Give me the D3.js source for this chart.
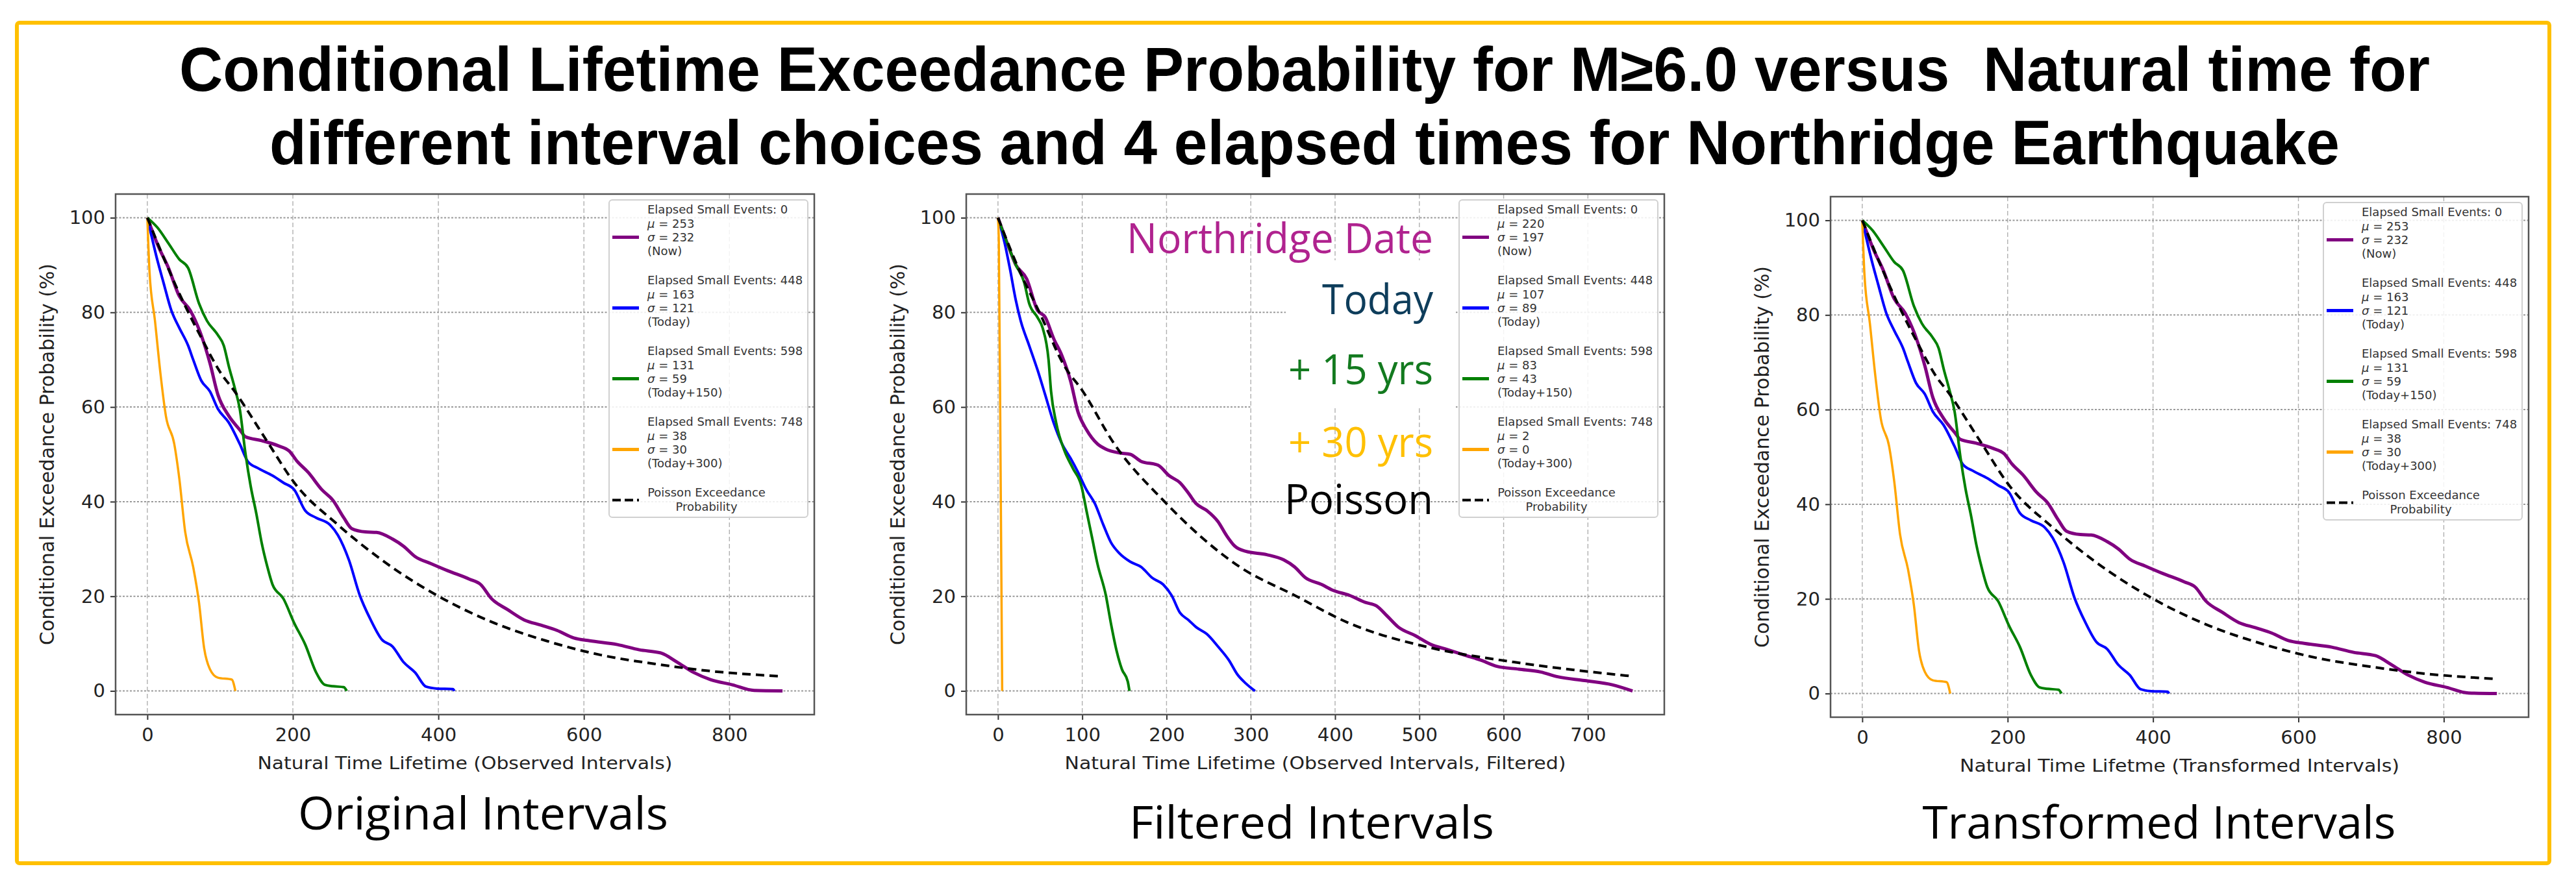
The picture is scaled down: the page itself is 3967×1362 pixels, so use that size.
<!DOCTYPE html>
<html>
<head>
<meta charset="utf-8">
<script src="https://cdn.jsdelivr.net/npm/d3@7"></script>
<style>
  body { margin: 0; background: #fff; }
  svg { display: block; }
</style>
</head>
<body>
<div id="chart"></div>
<script>
// values

var yTicks = [0, 20, 40, 60, 80, 100];
var xTicksWide = [0, 200, 400, 600, 800];
var xTicksFiltered = [0, 100, 200, 300, 400, 500, 600, 700];

var elapsed = [0, 448, 598, 748];
var tags = ["(Now)", "(Today)", "(Today+150)", "(Today+300)"];
var origMu = [253, 163, 131, 38];
var origSigma = [232, 121, 59, 30];
var filtMu = [220, 107, 83, 2];
var filtSigma = [197, 89, 43, 0];

// original intervals (the transformed panel shows the same curves)
var origNow = [[0,100],[15,94],[29,89.4],[44,83.4],[59,80.4],[74,75.2],[86,69.3],[97,62.6],[112,58.1],
  [127,55.2],[135,53.7],[157,52.9],[180,51.8],[195,50.7],[206,48.5],[221,46.2],[240,42.5],[255,40.3],
  [270,36.6],[281,34.3],[300,33.6],[315,33.5],[337,32.1],[352,30.6],[368,28.4],[390,26.9],[413,25.4],
  [443,23.6],[458,22.5],[473,19.5],[495,17.2],[518,15.0],[541,13.9],[563,12.8],[586,11.2],[608,10.6],
  [646,9.8],[676,8.7],[706,8.0],[728,6.1],[751,3.9],[774,2.4],[804,1.3],[834,0.1],[873,0]];
var origToday = [[0,100],[14,90.9],[22,86.4],[33,80.4],[44,76.7],[56,73],[63,70],[74,65.6],[86,63.3],
  [97,59.6],[112,56.7],[127,52.2],[138,48.5],[153,47],[172,45.5],[187,44],[202,42.5],[217,38.1],
  [232,36.6],[251,35.1],[262,32.9],[277,27.7],[292,20.2],[307,15.0],[322,10.9],[337,9.4],[352,6.1],
  [368,3.9],[383,0.9],[398,0.5],[420,0.4],[422,0]];
var orig150 = [[0,100],[14,97.9],[29,94.6],[44,91.2],[56,89.4],[71,81.9],[82,78.2],[97,75.2],[105,73.0],
  [112,68.6],[120,64.1],[127,59.6],[135,50],[142,43.3],[150,37.3],[157,31.4],[165,26.2],[172,22.5],
  [187,19.5],[202,14.3],[217,9.8],[232,3.9],[244,1.3],[255,1.0],[270,0.8],[274,0]];
var orig300 = [[0,100],[3,88.6],[10.5,78.2],[18,67.1],[25.5,58.1],[37,52.2],[44,44.8],[52,33.6],[63,26.2],
  [71,18.7],[78,9.1],[86,4.6],[97,2.8],[116,2.4],[121,0]];
var origPoisson = [[0,100],[25,90.6],[50,82],[75,74.4],[100,67.4],[120,63.3],[164,52.9],[202,44],
  [262,35.1],[322,27.7],[398,20.2],[473,14.6],[548,10.6],[623,7.6],[698,5.7],[774,4.2],[871,3.1]];

// filtered intervals
var filtNow = [[0,100],[11,94.6],[21,90.1],[34,87.1],[47,80.4],[56,79],[66,74.5],[76,70.8],[86,65.6],
  [95,58.9],[105,55.2],[118,52.2],[128,51.1],[144,50.3],[157,50],[170,48.5],[190,47.7],[203,45.5],
  [216,44],[226,41.8],[235,39.6],[248,38.1],[261,35.8],[271,32.9],[281,30.6],[294,29.5],[319,28.8],
  [339,27.7],[352,26.2],[365,23.9],[384,22.5],[397,21.3],[417,20.2],[436,18.7],[449,18.0],[462,15.8],
  [475,13.5],[495,11.7],[514,9.8],[534,8.7],[553,7.6],[573,6.5],[592,5.2],[618,4.6],[644,4.0],
  [664,3.0],[696,2.2],[729,1.3],[753,0]];
var filtToday = [[0,100],[8,94.6],[14,89.4],[21,82.7],[27,78.2],[37,73],[47,67.8],[56,62.6],[66,56.7],
  [76,52.2],[86,49.2],[95,46.2],[105,42.5],[115,39.6],[125,35.1],[134,31.4],[144,29.1],[157,27.3],
  [170,26.2],[183,23.9],[196,22.5],[206,20.2],[216,16.5],[226,15],[235,13.5],[248,12.0],[261,9.4],
  [274,6.5],[284,3.5],[294,1.6],[305,0]];
var filt150 = [[0,100],[11,94.6],[21,90.1],[31,86.4],[37,81.9],[47,78.9],[53,76.7],[60,70.0],[63,63.3],
  [69,56.7],[79,50.7],[89,47.0],[99,43.3],[105,38.1],[112,32.1],[118,26.9],[128,20.2],[134,14.3],
  [141,8.3],[147,4.6],[154,2.0],[156,0]];
var filt300 = [[0,100],[1,95],[3,50],[5,0]];
var filtPoisson = [[0,100],[25,89],[50,79.7],[79,68.6],[100,63.5],[138,52.2],[196,40.3],[287,26.2],
  [352,20.2],[417,14.3],[514,9.1],[612,6.1],[753,3.1]];

var annotations = ["Northridge Date", "Today", "+ 15 yrs", "+ 30 yrs", "Poisson"];

// ---- layout ----
var W = 3967, H = 1362;
var colors = ["#800080", "#0000ff", "#008000", "#ffa500"];
var widths = [5, 4, 4, 3.5];

var svg = d3.select("#chart")
    .append("svg")
    .attr("width", W)
    .attr("height", H);

svg.append("rect").attr("width", W).attr("height", H).attr("fill", "#fff");

// gold frame round the whole slide
svg.append("rect")
    .attr("x", 26).attr("y", 35)
    .attr("width", 3900).attr("height", 1295)
    .attr("rx", 4)
    .attr("fill", "none")
    .attr("stroke", "#FFC000")
    .attr("stroke-width", 6);

// title
var titleLines = [
    { t: "Conditional Lifetime Exceedance Probability for M\u22656.0 versus\u00a0 Natural time for", y: 140, len: 3466 },
    { t: "different interval choices and 4 elapsed times for Northridge Earthquake", y: 253, len: 3188 }
];
svg.selectAll(".title")
    .data(titleLines)
    .enter()
    .append("text")
    .attr("class", "title")
    .attr("x", 2009)
    .attr("y", function (d) { return d.y; })
    .attr("text-anchor", "middle")
    .attr("font-family", "'Liberation Sans', Arial, sans-serif")
    .attr("font-weight", 700)
    .attr("font-size", "96px")
    .attr("textLength", function (d) { return d.len; })
    .attr("lengthAdjust", "spacingAndGlyphs")
    .text(function (d) { return d.t; });

var panels = [
    {
        left: 178, right: 1254, top: 299, bottom: 1101,
        ticks: xTicksWide,
        series: [origNow, origToday, orig150, orig300],
        poisson: origPoisson, mu: origMu, sigma: origSigma,
        xlabel: "Natural Time Lifetime (Observed Intervals)", xlabelLen: 639,
        sub: "Original Intervals", subX: 744, subY: 1278, subLen: 570
    },
    {
        left: 1488, right: 2563, top: 299, bottom: 1101,
        ticks: xTicksFiltered,
        series: [filtNow, filtToday, filt150, filt300],
        poisson: filtPoisson, mu: filtMu, sigma: filtSigma,
        xlabel: "Natural Time Lifetime (Observed Intervals, Filtered)", xlabelLen: 772,
        sub: "Filtered Intervals", subX: 2020, subY: 1292, subLen: 562,
        notes: true
    },
    {
        left: 2819, right: 3894, top: 303, bottom: 1105,
        ticks: xTicksWide,
        series: [origNow, origToday, orig150, orig300],
        poisson: origPoisson, mu: origMu, sigma: origSigma,
        xlabel: "Natural Time Lifetme (Transformed Intervals)", xlabelLen: 677,
        sub: "Transformed Intervals", subX: 3325, subY: 1292, subLen: 729
    }
];

panels.forEach(drawPanel);

function drawPanel(p) {
    var g = svg.append("g");

    // matplotlib style 5% margins
    var xMax = d3.max(p.series.concat([p.poisson]), function (s) { return d3.max(s, function (d) { return d[0]; }); });
    var x = d3.scaleLinear()
        .domain([-0.05 * xMax, 1.05 * xMax])
        .range([p.left, p.right]);
    var y = d3.scaleLinear()
        .domain([-5, 105])
        .range([p.bottom, p.top]);

    // grid
    g.selectAll(".vgrid")
        .data(p.ticks)
        .enter()
        .append("line")
        .attr("x1", function (d) { return x(d); })
        .attr("x2", function (d) { return x(d); })
        .attr("y1", p.top).attr("y2", p.bottom)
        .attr("stroke", "#b0b0b0")
        .attr("stroke-width", 1.4)
        .attr("stroke-dasharray", "7,4");

    g.selectAll(".hgrid")
        .data(yTicks)
        .enter()
        .append("line")
        .attr("x1", p.left).attr("x2", p.right)
        .attr("y1", function (d) { return y(d); })
        .attr("y2", function (d) { return y(d); })
        .attr("stroke", "#999")
        .attr("stroke-width", 2)
        .attr("stroke-dasharray", "3,2.5");

    // axes
    var xAxisCall = d3.axisBottom(x)
        .tickValues(p.ticks)
        .tickSize(8)
        .tickPadding(12)
        .tickFormat(function (d) { return d; });
    var xAxisGroup = g.append("g")
        .attr("transform", "translate(0," + p.bottom + ")")
        .call(xAxisCall);

    var yAxisCall = d3.axisLeft(y)
        .tickValues(yTicks)
        .tickSize(8)
        .tickPadding(8)
        .tickFormat(function (d) { return d; });
    var yAxisGroup = g.append("g")
        .attr("transform", "translate(" + p.left + ",0)")
        .call(yAxisCall);

    [xAxisGroup, yAxisGroup].forEach(function (ax) {
        ax.select(".domain").remove();
        ax.selectAll(".tick line").attr("stroke", "#333").attr("stroke-width", 2);
        ax.selectAll(".tick text")
            .attr("fill", "#222")
            .attr("font-family", "'DejaVu Sans', sans-serif")
            .attr("font-size", "29px");
    });

    // white boxes behind the pasted annotations
    if (p.notes) {
        g.append("rect").attr("x", 1980).attr("y", 401).attr("width", 262).attr("height", 122).attr("fill", "#fff");
        g.append("rect").attr("x", 1927).attr("y", 521).attr("width", 315).attr("height", 108).attr("fill", "#fff");
    }

    // curves
    var line = d3.line()
        .x(function (d) { return x(d[0]); })
        .y(function (d) { return y(d[1]); })
        .curve(d3.curveMonotoneX);

    g.selectAll(".curve")
        .data(p.series)
        .enter()
        .append("path")
        .attr("d", line)
        .attr("fill", "none")
        .attr("stroke", function (d, i) { return colors[i]; })
        .attr("stroke-width", function (d, i) { return widths[i]; })
        .attr("stroke-linejoin", "round");

    g.append("path")
        .attr("d", line(p.poisson))
        .attr("fill", "none")
        .attr("stroke", "#000")
        .attr("stroke-width", 4)
        .attr("stroke-dasharray", "13,8");

    // frame
    g.append("rect")
        .attr("x", p.left).attr("y", p.top)
        .attr("width", p.right - p.left).attr("height", p.bottom - p.top)
        .attr("fill", "none")
        .attr("stroke", "#555")
        .attr("stroke-width", 2.5);

    // axis labels
    g.append("text")
        .attr("x", (p.left + p.right) / 2)
        .attr("y", p.bottom + 84)
        .attr("text-anchor", "middle")
        .attr("font-family", "'DejaVu Sans', sans-serif")
        .attr("font-size", "26px")
        .attr("fill", "#222")
        .attr("textLength", p.xlabelLen)
        .attr("lengthAdjust", "spacingAndGlyphs")
        .text(p.xlabel);

    g.append("text")
        .attr("transform", "translate(" + (p.left - 106) + "," + ((p.top + p.bottom) / 2) + ") rotate(-90)")
        .attr("dy", "0.36em")
        .attr("text-anchor", "middle")
        .attr("font-family", "'DejaVu Sans', sans-serif")
        .attr("font-size", "31px")
        .attr("fill", "#222")
        .attr("textLength", 588)
        .attr("lengthAdjust", "spacingAndGlyphs")
        .text("Conditional Exceedance Probability (%)");

    // legend
    var lg = g.append("g")
        .attr("transform", "translate(" + (p.right - 316) + "," + (p.top + 9) + ")");
    lg.append("rect")
        .attr("width", 306).attr("height", 489)
        .attr("rx", 5)
        .attr("fill", "#fff").attr("fill-opacity", 0.85)
        .attr("stroke", "#d0d0d0").attr("stroke-width", 2);

    elapsed.forEach(function (ev, k) {
        var y0 = 15 + 109 * k;
        var lines = [
            [{ t: "Elapsed Small Events: " + ev }],
            [{ t: "\u03bc", it: true }, { t: " = " + p.mu[k] }],
            [{ t: "\u03c3", it: true }, { t: " = " + p.sigma[k] }],
            [{ t: tags[k] }]
        ];
        lg.append("line")
            .attr("x1", 5).attr("x2", 46)
            .attr("y1", y0 + 42.6).attr("y2", y0 + 42.6)
            .attr("stroke", colors[k])
            .attr("stroke-width", 5);
        lines.forEach(function (segs, j) {
            var t = lg.append("text")
                .attr("x", 59)
                .attr("y", y0 + 21.3 * j)
                .attr("dy", "0.35em")
                .attr("font-family", "'DejaVu Sans', sans-serif")
                .attr("font-size", "18px")
                .attr("fill", "#333");
            segs.forEach(function (s) {
                t.append("tspan")
                    .attr("font-style", s.it ? "italic" : null)
                    .text(s.t);
            });
        });
    });

    var yp = 15 + 109 * 4;
    lg.append("line")
        .attr("x1", 5).attr("x2", 46)
        .attr("y1", yp + 11.5).attr("y2", yp + 11.5)
        .attr("stroke", "#000")
        .attr("stroke-width", 4)
        .attr("stroke-dasharray", "13,6");
    lg.selectAll(".ptext")
        .data(["Poisson Exceedance", "Probability"])
        .enter()
        .append("text")
        .attr("x", 150)
        .attr("y", function (d, j) { return yp + 21.3 * j; })
        .attr("dy", "0.35em")
        .attr("text-anchor", "middle")
        .attr("font-family", "'DejaVu Sans', sans-serif")
        .attr("font-size", "18px")
        .attr("fill", "#333")
        .text(function (d) { return d; });

    // annotations pasted on the filtered panel
    if (p.notes) {
        var noteY = [390, 484, 592, 704, 792];
        var noteLen = [472, 171, 223, 223, 229];
        var noteColor = ["#B0238F", "#0E3D5B", "#137A1F", "#FFC000", "#000"];
        g.selectAll(".note")
            .data(annotations)
            .enter()
            .append("text")
            .attr("x", 2207)
            .attr("y", function (d, i) { return noteY[i]; })
            .attr("text-anchor", "end")
            .attr("font-family", "'Open Sans', 'Noto Sans', sans-serif")
            .attr("font-size", "64px")
            .attr("fill", function (d, i) { return noteColor[i]; })
            .attr("textLength", function (d, i) { return noteLen[i]; })
            .attr("lengthAdjust", "spacingAndGlyphs")
            .text(function (d) { return d; });
    }

    // panel caption below
    svg.append("text")
        .attr("x", p.subX)
        .attr("y", p.subY)
        .attr("text-anchor", "middle")
        .attr("font-family", "'Open Sans', 'Noto Sans', sans-serif")
        .attr("font-size", "70px")
        .attr("fill", "#000")
        .attr("textLength", p.subLen)
        .attr("lengthAdjust", "spacingAndGlyphs")
        .text(p.sub);
}
</script>
</body>
</html>
